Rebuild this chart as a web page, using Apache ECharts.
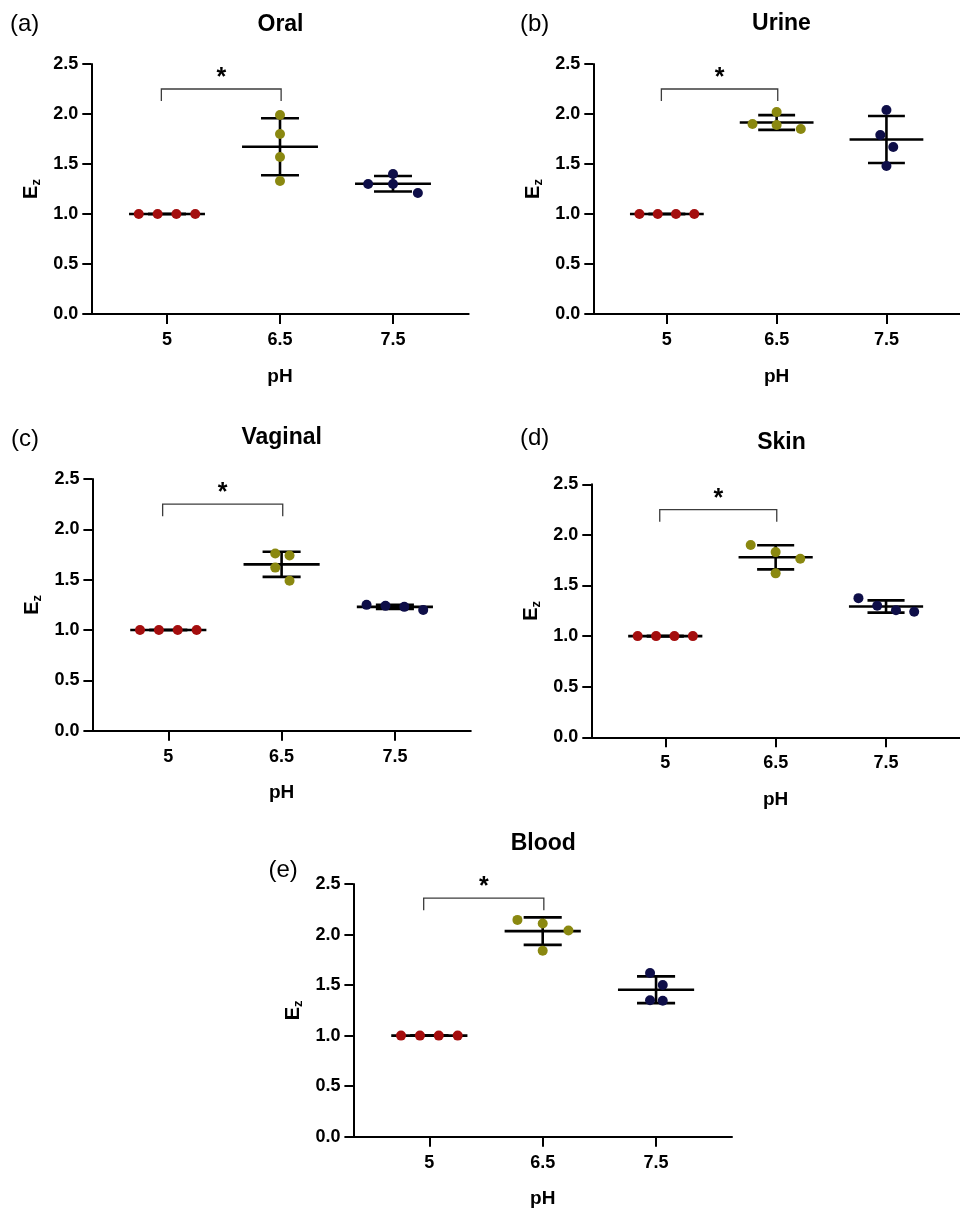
<!DOCTYPE html>
<html><head><meta charset="utf-8">
<script src="https://cdn.jsdelivr.net/npm/echarts@6/dist/echarts.min.js"></script>
<style>html,body{margin:0;padding:0;background:#fff}#c{width:960px;height:1211px}</style>
</head><body><div id="c"></div>
<script>
// ---------------- DATA ----------------
const categories = ['5', '6.5', '7.5'];
const panelTitles = ['Oral', 'Urine', 'Vaginal', 'Skin', 'Blood'];
const panelLetters = ['(a)', '(b)', '(c)', '(d)', '(e)'];
const yTickValues = [0, 0.5, 1.0, 1.5, 2.0, 2.5];

// Ez values for each pH group: [pH 5, pH 6.5, pH 7.5]
const oralValues    = [[1, 1, 1, 1], [1.99, 1.80, 1.57, 1.33], [1.30, 1.40, 1.30, 1.21]];
const urineValues   = [[1, 1, 1, 1], [1.90, 2.02, 1.89, 1.85], [2.04, 1.79, 1.67, 1.48]];
const vaginalValues = [[1, 1, 1, 1], [1.76, 1.74, 1.62, 1.49], [1.25, 1.24, 1.23, 1.20]];
const skinValues    = [[1, 1, 1, 1], [1.90, 1.83, 1.765, 1.62], [1.375, 1.30, 1.255, 1.24]];
const bloodValues   = [[1, 1, 1, 1], [2.145, 2.11, 2.04, 1.84], [1.62, 1.50, 1.35, 1.345]];

// horizontal dot spread inside each category (category units, scatter-dot-plot style)
const oralSpread    = [[-0.25, -0.083, 0.083, 0.25], [0, 0, 0, 0], [-0.22, 0, 0, 0.22]];
const urineSpread   = [[-0.25, -0.083, 0.083, 0.25], [-0.22, 0, 0, 0.22], [0, -0.056, 0.062, 0]];
const vaginalSpread = [[-0.25, -0.083, 0.083, 0.25], [-0.056, 0.07, -0.056, 0.07], [-0.25, -0.083, 0.083, 0.25]];
const skinSpread    = [[-0.25, -0.083, 0.083, 0.25], [-0.226, 0, 0.223, 0], [-0.25, -0.08, 0.09, 0.255]];
const bloodSpread   = [[-0.25, -0.083, 0.083, 0.25], [-0.223, 0, 0.227, 0], [-0.053, 0.059, -0.053, 0.059]];

// significance bracket (pH 5 vs pH 6.5) level per panel
const sigBracketY = [2.25, 2.25, 2.25, 2.25, 2.36];
const sigText = '*';

// ---------------- LAYOUT / STYLE ----------------
const groupColors = ['#A40E0E', '#8A8810', '#0E0E48'];
const layouts = [
  { left: 91.3,  top: 64,    width: 377.4, height: 250,   title: [280.5, 24.5], letter: [10, 24] },
  { left: 593.3, top: 64,    width: 375.8, height: 250,   title: [781.5, 24.0], letter: [520, 24] },
  { left: 92.4,  top: 479,   width: 378.4, height: 251.7, title: [281.7, 438],  letter: [11, 439] },
  { left: 591.3, top: 484.3, width: 379.1, height: 253,   title: [781.5, 443],  letter: [520, 438] },
  { left: 353.4, top: 884,   width: 378.6, height: 252.7, title: [543.3, 843.7], letter: [268.5, 870.5] }
];
const allValues = [oralValues, urineValues, vaginalValues, skinValues, bloodValues];
const allSpread = [oralSpread, urineSpread, vaginalSpread, skinSpread, bloodSpread];

const FONT = 'Liberation Sans';
const MEAN_HALF = 0.336, CAP_HALF = 0.168;

function mean(a) { return a.reduce((s, v) => s + v, 0) / a.length; }
function sdev(a) { const m = mean(a); return Math.sqrt(a.reduce((s, v) => s + (v - m) * (v - m), 0) / (a.length - 1)); }

function meanSdRender(params, api) {
  const c = api.value(0), m = api.value(1), s = api.value(2);
  const seg = (a, b, w) => ({ type: 'line', shape: { x1: a[0], y1: a[1], x2: b[0], y2: b[1] },
    style: { stroke: '#000', lineWidth: w, lineCap: 'butt' } });
  return { type: 'group', children: [
    seg(api.coord([c, m - s]), api.coord([c, m + s]), 2.6),
    seg(api.coord([c - CAP_HALF, m + s]), api.coord([c + CAP_HALF, m + s]), 2.6),
    seg(api.coord([c - CAP_HALF, m - s]), api.coord([c + CAP_HALF, m - s]), 2.6),
    seg(api.coord([c - MEAN_HALF, m]), api.coord([c + MEAN_HALF, m]), 2.6)
  ] };
}

function bracketRender(params, api) {
  const a = api.value(0), b = api.value(1), y = api.value(2);
  const drop = 0.12;
  const p1 = api.coord([a - 0.05, y - drop]), p2 = api.coord([a - 0.05, y]);
  const p3 = api.coord([b + 0.01, y]), p4 = api.coord([b + 0.01, y - drop]);
  const st = api.coord([(a - 0.05 + b + 0.01) / 2, y + 0.16]);
  return { type: 'group', children: [
    { type: 'polyline', shape: { points: [p1, p2, p3, p4] }, style: { stroke: '#3c3c3c', lineWidth: 1.3, fill: null } },
    { type: 'text', x: st[0], y: st[1] + 5.5, style: { text: sigText, fill: '#000', font: 'bold 25px "Liberation Sans"', textAlign: 'center', textVerticalAlign: 'middle' } }
  ] };
}

const grid = [], xAxis = [], yAxis = [], series = [], graphic = [];
allValues.forEach((vals, i) => {
  const L = layouts[i];
  grid.push({ left: L.left, top: L.top, width: L.width, height: L.height, containLabel: false });
  xAxis.push({
    type: 'value', gridIndex: i, min: -0.67, max: 2.67,
    axisLine: { show: true, onZero: false, lineStyle: { color: '#000', width: 2 } },
    axisTick: { show: true, length: 10, customValues: [0, 1, 2], lineStyle: { color: '#000', width: 2 } },
    axisLabel: { customValues: [0, 1, 2], formatter: v => categories[Math.round(v)], color: '#000',
      fontFamily: FONT, fontWeight: 'bold', fontSize: 18, margin: 17 },
    splitLine: { show: false },
    name: 'pH', nameLocation: 'middle', nameGap: 53,
    nameTextStyle: { color: '#000', fontFamily: FONT, fontWeight: 'bold', fontSize: 19 }
  });
  yAxis.push({
    type: 'value', gridIndex: i, min: 0, max: 2.5, interval: 0.5,
    axisLine: { show: true, onZero: false, lineStyle: { color: '#000', width: 2 } },
    axisTick: { show: true, length: 9, lineStyle: { color: '#000', width: 2 } },
    axisLabel: { formatter: v => v.toFixed(1), color: '#000', fontFamily: FONT, fontWeight: 'bold', fontSize: 18, margin: 13 },
    splitLine: { show: false },
    name: '{e|E}{z|z}', nameLocation: 'middle', nameGap: 48, nameRotate: 90,
    nameTextStyle: { rich: {
      e: { fontFamily: FONT, fontWeight: 'bold', fontSize: 20, lineHeight: 24, color: '#000' },
      z: { fontFamily: FONT, fontWeight: 'bold', fontSize: 13, lineHeight: 12, verticalAlign: 'bottom', color: '#000' }
    } }
  });
  series.push({ type: 'custom', xAxisIndex: i, yAxisIndex: i, z: 2, silent: true,
    data: vals.map((g, k) => [k, mean(g), sdev(g)]), renderItem: meanSdRender, encode: { x: 0, y: 1 } });
  vals.forEach((g, k) => {
    series.push({ type: 'scatter', xAxisIndex: i, yAxisIndex: i, z: 3, silent: true, symbol: 'circle', symbolSize: 10,
      itemStyle: { color: groupColors[k], opacity: 1 },
      data: g.map((v, j) => [k + allSpread[i][k][j], v]) });
  });
  series.push({ type: 'custom', xAxisIndex: i, yAxisIndex: i, z: 4, silent: true, clip: false,
    data: [[0, 1, sigBracketY[i]]], renderItem: bracketRender, encode: { x: 0, y: 2 } });
  graphic.push({ type: 'text', x: L.title[0], y: L.title[1], style: { text: panelTitles[i], fill: '#000',
    font: 'bold 23px "' + FONT + '"', textAlign: 'center', textVerticalAlign: 'middle' } });
  graphic.push({ type: 'text', x: L.letter[0], y: L.letter[1], style: { text: panelLetters[i], fill: '#000',
    font: '24px "Liberation Sans"', textAlign: 'left', textVerticalAlign: 'middle' } });
});

const chart = echarts.init(document.getElementById('c'), null, { renderer: 'canvas', width: 960, height: 1211 });
chart.setOption({ backgroundColor: '#fff', animation: false, grid, xAxis, yAxis, series, graphic });
</script>
</body></html>
